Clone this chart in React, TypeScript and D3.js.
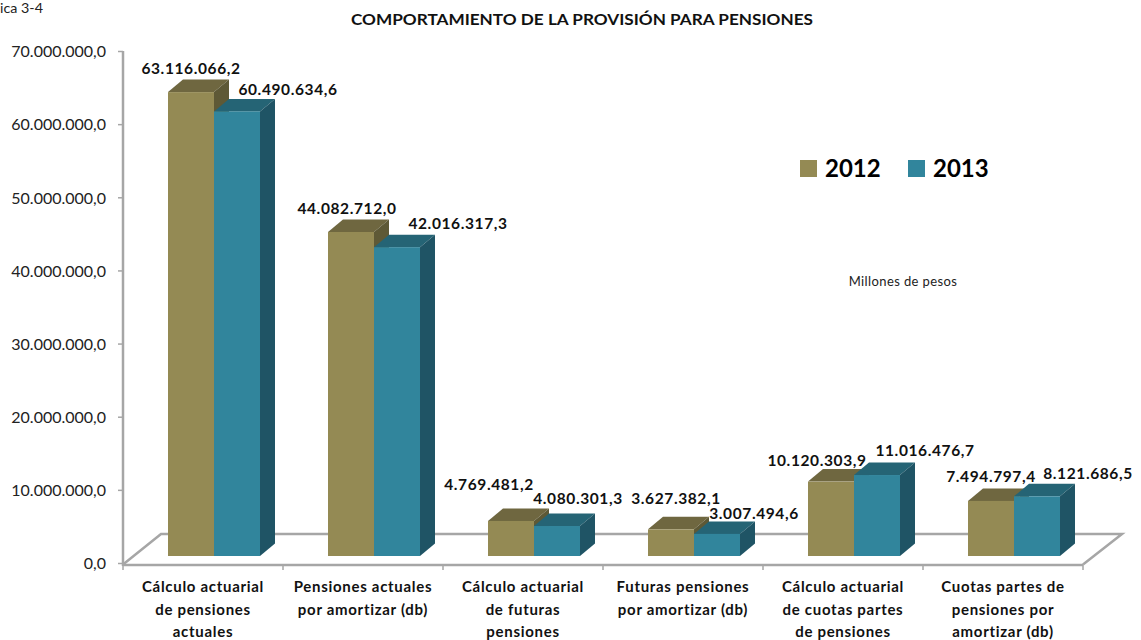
import React from "react";
import * as d3 from "d3";

const categories = [
  ["Cálculo actuarial", "de pensiones", "actuales"],
  ["Pensiones actuales", "por amortizar (db)"],
  ["Cálculo actuarial", "de futuras", "pensiones"],
  ["Futuras pensiones", "por amortizar (db)"],
  ["Cálculo actuarial", "de cuotas partes", "de pensiones"],
  ["Cuotas partes de", "pensiones por", "amortizar (db)"],
];
const values2012 = [63116066.2, 44082712.0, 4769481.2, 3627382.1, 10120303.9, 7494797.4];
const values2013 = [60490634.6, 42016317.3, 4080301.3, 3007494.6, 11016476.7, 8121686.5];
const yTicks = [0, 10000000, 20000000, 30000000, 40000000, 50000000, 60000000, 70000000];
// Hand-placed label anchors from the original chart (centre x, centre y)
const labelPos2012 = [[191, 68], [347, 208], [489, 484], [676, 498], [817, 460], [991, 476]];
const labelPos2013 = [[288, 89], [458, 223], [578, 498], [754, 513], [925, 450], [1088, 473]];

const fmt = (v: number) => {
  const [i, d] = v.toFixed(1).split(".");
  return i.replace(/\B(?=(\d{3})+(?!\d))/g, ".") + "," + d;
};

const FONT = "Lato, 'Open Sans', sans-serif";
const OLIVE = { front: "#948a54", top: "#6f6740", side: "#5e5936" };
const TEAL = { front: "#31859c", top: "#256475", side: "#1f5465" };
const GREY = "#a6a6a6";

function Bar({ x, w, y0, y1, c }: any) {
  const dx = 15, dy = 12.5;
  return (
    <g>
      <polygon points={`${x},${y1} ${x + dx},${y1 - dy} ${x + w + dx},${y1 - dy} ${x + w},${y1}`} fill={c.top} />
      <polygon points={`${x + w},${y1} ${x + w + dx},${y1 - dy} ${x + w + dx},${y0 - dy} ${x + w},${y0}`} fill={c.side} />
      <rect x={x} y={y1} width={w} height={y0 - y1} fill={c.front} />
    </g>
  );
}

export default function App() {
  const x = d3.scaleBand<number>().domain(d3.range(categories.length)).range([123, 1083]);
  const yAxis = d3.scaleLinear().domain([0, 70000000]).range([563.5, 51.5]);
  const yBar = d3.scaleLinear().domain([0, 70000000]).range([556, 41.5]);
  const barW = 46;
  const barX = (i: number) => (x(i) as number) + 45;
  return (
    <svg width={1141} height={640} style={{ position: "absolute", left: 0, top: 0, background: "#fff" }} fontFamily={FONT}>
      <text x={0} y={13} fontSize={13.5} fill="#222" textLength={43} lengthAdjust="spacingAndGlyphs">ica 3-4</text>
      <text x={582} y={25} textAnchor="middle" fontSize={15.5} fontWeight={700} fill="#111" textLength={462} lengthAdjust="spacingAndGlyphs">COMPORTAMIENTO DE LA PROVISIÓN PARA PENSIONES</text>

      {/* floor */}
      <polyline points="123,564.5 161,534 1122,534 1083,564.5" fill="none" stroke={GREY} strokeWidth={2.5} />

      {/* axes */}
      <line x1={123} x2={123} y1={51} y2={566} stroke={GREY} strokeWidth={2.5} />
      <line x1={123} x2={1083} y1={565} y2={565} stroke={GREY} strokeWidth={2.5} />
      {yTicks.map((t) => (
        <g key={t}>
          <line x1={118} x2={123} y1={yAxis(t)} y2={yAxis(t)} stroke={GREY} strokeWidth={1.5} />
          <text x={106} y={yAxis(t)} dy="0.36em" textAnchor="end" fontSize={16} fill="#222">{fmt(t)}</text>
        </g>
      ))}
      {d3.range(categories.length + 1).map((i) => {
        const tx = i < categories.length ? (x(i) as number) : 1083;
        return <line key={i} x1={tx} x2={tx} y1={565} y2={570} stroke={GREY} strokeWidth={1.5} />;
      })}

      {/* bars */}
      {categories.map((_, i) => (
        <g key={i}>
          <Bar x={barX(i)} w={barW} y0={yBar(0)} y1={yBar(values2012[i])} c={OLIVE} />
          <Bar x={barX(i) + barW} w={barW} y0={yBar(0)} y1={yBar(values2013[i])} c={TEAL} />
        </g>
      ))}

      {/* data labels */}
      {values2012.map((v, i) => (
        <text key={i} x={labelPos2012[i][0]} y={labelPos2012[i][1]} dy="0.36em" textAnchor="middle" fontSize={15.5} letterSpacing={0.6} fontWeight={700} fill="#111">{fmt(v)}</text>
      ))}
      {values2013.map((v, i) => (
        <text key={i} x={labelPos2013[i][0]} y={labelPos2013[i][1]} dy="0.36em" textAnchor="middle" fontSize={15.5} letterSpacing={0.6} fontWeight={700} fill="#111">{fmt(v)}</text>
      ))}

      {/* category labels */}
      {categories.map((lines, i) => (
        <text key={i} textAnchor="middle" fontSize={15} letterSpacing={0.7} fontWeight={700} fill="#111">
          {lines.map((l, j) => (
            <tspan key={j} x={(x(i) as number) + x.bandwidth() / 2} y={587 + j * 22.5} dy="0.36em">{l}</tspan>
          ))}
        </text>
      ))}

      {/* legend */}
      <rect x={800} y={160} width={17} height={17} fill={OLIVE.front} />
      <text x={825} y={177} fontSize={24} fontWeight={700} fill="#000">2012</text>
      <rect x={908} y={160} width={17} height={17} fill={TEAL.front} />
      <text x={933} y={177} fontSize={24} fontWeight={700} fill="#000">2013</text>

      <text x={903} y={286} textAnchor="middle" fontSize={13} letterSpacing={0.4} fill="#222">Millones de pesos</text>
    </svg>
  );
}
